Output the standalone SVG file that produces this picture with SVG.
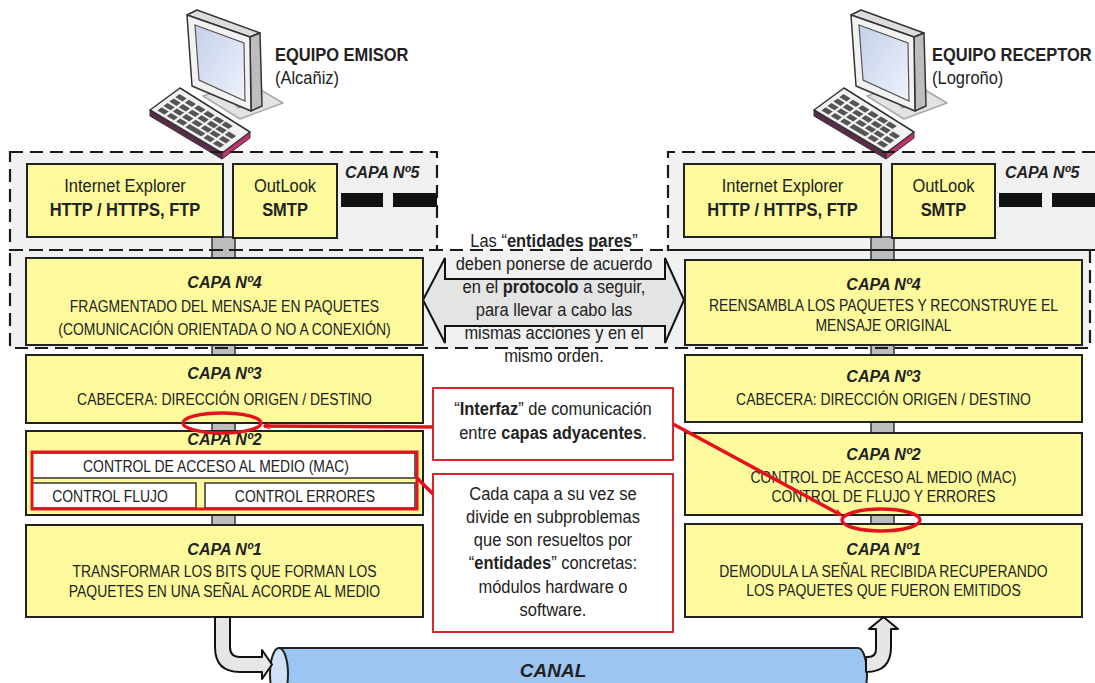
<svg xmlns="http://www.w3.org/2000/svg" width="1095" height="683" viewBox="0 0 1095 683">
  <style>
    text { font-family: "Liberation Sans", Arial, sans-serif; fill: #222; }
    .t16 { font-size: 18.3px; }
    .t14 { font-size: 17px; }
    .title { font-size: 16px; font-weight: bold; font-style: italic; }
    .b { font-weight: bold; }
    .mid { text-anchor: middle; }
    .layer { fill: #fcfa9c; stroke: #222; stroke-width: 2; }
    .plain { fill: #ffffff; stroke: #333; stroke-width: 1.5; }
    .zone { fill: #f1f1f1; stroke: none; }
    .dash { fill: none; stroke: #1a1a1a; stroke-width: 2.2; stroke-dasharray: 13 7; }
    .link { fill: #bdbdbd; stroke: #333; stroke-width: 1.5; }
    .note { fill: #ffffff; stroke: #d9262c; stroke-width: 2; }
    .red { fill: none; stroke: #e3121b; stroke-width: 3.5; }
    .pipe { fill: #e6e6e6; stroke: #111; stroke-width: 2; stroke-linejoin: round; }
  </style>
  <defs>
    <marker id="redHead" viewBox="0 0 12 12" refX="11" refY="6" markerWidth="7" markerHeight="7" orient="auto" markerUnits="userSpaceOnUse">
      <path d="M1,1 L11,6 L1,11" fill="none" stroke="#e3121b" stroke-width="2"/>
    </marker>
    <linearGradient id="screen" x1="0" y1="0" x2="1" y2="1">
      <stop offset="0" stop-color="#c4d0ea"/>
      <stop offset="1" stop-color="#eef2fb"/>
    </linearGradient>
    <clipPath id="clipL2"><rect x="26" y="431" width="397" height="84"/></clipPath>
    <!-- desktop computer icon -->
    <g id="pc">
      <path d="M203,96 L246,81 L283,103 L240,119 Z" fill="#e2e2e2" stroke="#aaa" stroke-width="1.5" stroke-linejoin="round"/>
      <path d="M226,90 L238,86 L250,104 L238,108 Z" fill="#cfcfcf" stroke="#888" stroke-width="1"/>
      <path d="M187,15 L197,10 L260,33 L250,37 Z" fill="#dcdcdc" stroke="#333" stroke-width="1.5" stroke-linejoin="round"/>
      <path d="M250,37 L260,33 L262,106 L251,111 Z" fill="#bdbdbd" stroke="#333" stroke-width="1.5" stroke-linejoin="round"/>
      <path d="M187,15 L250,37 L251,111 L192,86 Z" fill="#f2f2f2" stroke="#333" stroke-width="1.5" stroke-linejoin="round"/>
      <path d="M195,25 L244,43 L245,101 L199,80 Z" fill="url(#screen)" stroke="#555" stroke-width="1.2"/>
      <path d="M150,110 L222,153 L222,159 L150,116 Z" fill="#5b2b4b" stroke="#333" stroke-width="1"/>
      <path d="M222,153 L250,132 L250,138 L222,159 Z" fill="#c2306d" stroke="#333" stroke-width="1"/>
      <path d="M150,110 L180,88 L250,132 L222,153 Z" fill="#f2f2f2" stroke="#333" stroke-width="1.5" stroke-linejoin="round"/>
      <g transform="matrix(0.72,0.43,0.30,-0.22,150,110)" fill="#555">
        <rect x="6" y="10" width="10" height="14"/><rect x="19" y="10" width="10" height="14"/><rect x="32" y="10" width="10" height="14"/><rect x="45" y="10" width="22" height="14"/><rect x="70" y="10" width="10" height="14"/><rect x="83" y="10" width="10" height="14"/>
        <rect x="6" y="30" width="10" height="14"/><rect x="19" y="30" width="10" height="14"/><rect x="32" y="30" width="10" height="14"/><rect x="45" y="30" width="10" height="14"/><rect x="58" y="30" width="10" height="14"/><rect x="70" y="30" width="10" height="14"/><rect x="83" y="30" width="10" height="14"/>
        <rect x="6" y="50" width="10" height="14"/><rect x="19" y="50" width="10" height="14"/><rect x="32" y="50" width="10" height="14"/><rect x="45" y="50" width="10" height="14"/><rect x="58" y="50" width="10" height="14"/><rect x="70" y="50" width="10" height="14"/><rect x="83" y="50" width="10" height="14"/>
        <rect x="6" y="70" width="10" height="14"/><rect x="19" y="70" width="10" height="14"/><rect x="32" y="70" width="10" height="14"/><rect x="45" y="70" width="10" height="14"/><rect x="58" y="70" width="10" height="14"/><rect x="70" y="70" width="10" height="14"/>
      </g>
    </g>
  </defs>

  <rect width="1095" height="683" fill="#ffffff"/>

  <!-- shaded layer zones -->
  <g id="zones">
    <rect class="zone" x="10" y="152" width="427" height="98"/>
    <rect class="zone" x="668" y="152" width="427" height="98"/>
    <rect class="zone" x="10" y="250" width="1080" height="98"/>
  </g>

  <!-- computers (labels use a 0.9 horizontal squeeze) -->
  <g id="emisor">
    <use href="#pc"/>
    <g transform="scale(0.9,1)">
      <text class="t16 b" x="305.56" y="61">EQUIPO EMISOR</text>
      <text class="t16" x="305.56" y="84">(Alcañiz)</text>
    </g>
  </g>
  <g id="receptor">
    <use href="#pc" transform="translate(664,0)"/>
    <g transform="scale(0.9,1)">
      <text class="t16 b" x="1035.56" y="61">EQUIPO RECEPTOR</text>
      <text class="t16" x="1035.56" y="84">(Logroño)</text>
    </g>
  </g>

  <!-- links between adjacent layers -->
  <g id="links">
    <rect class="link" x="212" y="237" width="23" height="21"/>
    <rect class="link" x="212" y="345" width="23" height="10"/>
    <rect class="link" x="212" y="423" width="23" height="8"/>
    <rect class="link" x="212" y="515" width="23" height="10"/>
    <rect class="link" x="871" y="237" width="23" height="23"/>
    <rect class="link" x="871" y="345" width="23" height="10"/>
    <rect class="link" x="871" y="422" width="23" height="11"/>
    <rect class="link" x="871" y="515" width="23" height="9"/>
  </g>

  <!-- layer 5 -->
  <g id="capa5-emisor">
    <rect class="layer" x="27" y="164" width="196" height="73"/>
    <rect class="layer" x="233" y="164" width="104" height="74"/>
    <g transform="scale(0.9,1)">
      <text class="t16 mid" x="138.89" y="192">Internet Explorer</text>
      <text class="t16 b mid" x="138.89" y="216">HTTP / HTTPS, FTP</text>
      <text class="t16 mid" x="316.67" y="192">OutLook</text>
      <text class="t16 b mid" x="316.67" y="216">SMTP</text>
    </g>
    <text class="title" x="345" y="178">CAPA Nº5</text>
    <rect x="341" y="193" width="42" height="14" fill="#111"/>
    <rect x="393" y="193" width="44" height="14" fill="#111"/>
  </g>
  <g id="capa5-receptor">
    <rect class="layer" x="684" y="164" width="197" height="73"/>
    <rect class="layer" x="892" y="164" width="103" height="74"/>
    <g transform="scale(0.9,1)">
      <text class="t16 mid" x="869.44" y="192">Internet Explorer</text>
      <text class="t16 b mid" x="869.44" y="216">HTTP / HTTPS, FTP</text>
      <text class="t16 mid" x="1048.33" y="192">OutLook</text>
      <text class="t16 b mid" x="1048.33" y="216">SMTP</text>
    </g>
    <text class="title" x="1005" y="178">CAPA Nº5</text>
    <rect x="999" y="193" width="43" height="14" fill="#111"/>
    <rect x="1052" y="193" width="43" height="14" fill="#111"/>
  </g>

  <!-- dashed zone borders -->
  <g id="zone-borders">
    <rect class="dash" x="10" y="152" width="427" height="98"/>
    <path class="dash" d="M1095,152 L668,152 L668,250 L1095,250"/>
    <rect class="dash" x="10" y="250" width="1080" height="98"/>
  </g>

  <!-- peer protocol arrow -->
  <g id="protocolo">
    <path d="M423,300 L445,258 L445,279 L665,279 L665,258 L684,300 L665,343 L665,326 L445,326 L445,343 Z" fill="#e4e4e4" stroke="#111" stroke-width="2" stroke-linejoin="miter"/>
    <g transform="scale(0.9,1)">
      <text class="t16 mid" x="615.56" y="247">Las “<tspan class="b">entidades pares</tspan>”</text>
      <text class="t16 mid" x="615.56" y="270">deben ponerse de acuerdo</text>
      <text class="t16 mid" x="615.56" y="293">en el <tspan class="b">protocolo</tspan> a seguir,</text>
      <text class="t16 mid" x="615.56" y="316">para llevar a cabo las</text>
      <text class="t16 mid" x="615.56" y="339">mismas acciones y en el</text>
      <text class="t16 mid" x="615.56" y="362">mismo orden.</text>
    </g>
  </g>

  <!-- sender stack (body lines use a 0.82 horizontal squeeze) -->
  <g id="capa4-emisor">
    <rect class="layer" x="26" y="258" width="397" height="87"/>
    <text class="title mid" x="224.5" y="288">CAPA Nº4</text>
    <g transform="scale(0.82,1)">
      <text class="t14 mid" x="273.78" y="312">FRAGMENTADO DEL MENSAJE EN PAQUETES</text>
      <text class="t14 mid" x="273.78" y="335">(COMUNICACIÓN ORIENTADA O NO A CONEXIÓN)</text>
    </g>
  </g>
  <g id="capa3-emisor">
    <rect class="layer" x="26" y="355" width="397" height="68"/>
    <text class="title mid" x="224.5" y="379">CAPA Nº3</text>
    <g transform="scale(0.82,1)">
      <text class="t14 mid" x="273.78" y="405">CABECERA: DIRECCIÓN ORIGEN / DESTINO</text>
    </g>
  </g>
  <g id="capa2-emisor">
    <rect class="layer" x="26" y="431" width="397" height="84"/>
    <text class="title mid" x="224.5" y="445" clip-path="url(#clipL2)">CAPA Nº2</text>
    <rect class="plain" x="32" y="453" width="383" height="25"/>
    <rect class="plain" x="32" y="483" width="164" height="25"/>
    <rect class="plain" x="205" y="483" width="210" height="25"/>
    <g transform="scale(0.82,1)">
      <text class="t14 mid" x="263.41" y="472">CONTROL DE ACCESO AL MEDIO (MAC)</text>
      <text class="t14 mid" x="134.15" y="502">CONTROL FLUJO</text>
      <text class="t14 mid" x="371.95" y="502">CONTROL ERRORES</text>
    </g>
    <rect x="32" y="452" width="385" height="57" fill="none" stroke="#e3121b" stroke-width="3"/>
  </g>
  <g id="capa1-emisor">
    <rect class="layer" x="26" y="525" width="397" height="92"/>
    <text class="title mid" x="224.5" y="555">CAPA Nº1</text>
    <g transform="scale(0.82,1)">
      <text class="t14 mid" x="273.78" y="577">TRANSFORMAR LOS BITS QUE FORMAN LOS</text>
      <text class="t14 mid" x="273.78" y="597">PAQUETES EN UNA SEÑAL ACORDE AL MEDIO</text>
    </g>
  </g>

  <!-- receiver stack -->
  <g id="capa4-receptor">
    <rect class="layer" x="685" y="260" width="397" height="85"/>
    <text class="title mid" x="883.5" y="290">CAPA Nº4</text>
    <g transform="scale(0.82,1)">
      <text class="t14 mid" x="1077.44" y="311">REENSAMBLA LOS PAQUETES Y RECONSTRUYE EL</text>
      <text class="t14 mid" x="1077.44" y="331">MENSAJE ORIGINAL</text>
    </g>
  </g>
  <g id="capa3-receptor">
    <rect class="layer" x="685" y="355" width="397" height="67"/>
    <text class="title mid" x="883.5" y="382">CAPA Nº3</text>
    <g transform="scale(0.82,1)">
      <text class="t14 mid" x="1077.44" y="405">CABECERA: DIRECCIÓN ORIGEN / DESTINO</text>
    </g>
  </g>
  <g id="capa2-receptor">
    <rect class="layer" x="685" y="433" width="397" height="82"/>
    <text class="title mid" x="883.5" y="460">CAPA Nº2</text>
    <g transform="scale(0.82,1)">
      <text class="t14 mid" x="1077.44" y="483">CONTROL DE ACCESO AL MEDIO (MAC)</text>
      <text class="t14 mid" x="1077.44" y="502">CONTROL DE FLUJO Y ERRORES</text>
    </g>
  </g>
  <g id="capa1-receptor">
    <rect class="layer" x="685" y="524" width="397" height="93"/>
    <text class="title mid" x="883.5" y="555">CAPA Nº1</text>
    <g transform="scale(0.82,1)">
      <text class="t14 mid" x="1077.44" y="577">DEMODULA LA SEÑAL RECIBIDA RECUPERANDO</text>
      <text class="t14 mid" x="1077.44" y="596">LOS PAQUETES QUE FUERON EMITIDOS</text>
    </g>
  </g>

  <!-- notes -->
  <g id="nota-interfaz">
    <rect class="note" x="433" y="388" width="240" height="72"/>
    <g transform="scale(0.9,1)">
      <text class="t16 mid" x="614.44" y="415">“<tspan class="b">Interfaz</tspan>” de comunicación</text>
      <text class="t16 mid" x="614.44" y="439">entre <tspan class="b">capas adyacentes</tspan>.</text>
    </g>
  </g>
  <g id="nota-entidades">
    <rect class="note" x="433" y="474" width="240" height="158"/>
    <g transform="scale(0.9,1)">
      <text class="t16 mid" x="614.44" y="500">Cada capa a su vez se</text>
      <text class="t16 mid" x="614.44" y="523">divide en subproblemas</text>
      <text class="t16 mid" x="614.44" y="546">que son resueltos por</text>
      <text class="t16 mid" x="614.44" y="569">“<tspan class="b">entidades</tspan>” concretas:</text>
      <text class="t16 mid" x="614.44" y="593">módulos hardware o</text>
      <text class="t16 mid" x="614.44" y="616">software.</text>
    </g>
  </g>

  <!-- channel -->
  <g id="canal">
    <path d="M279,648 L858,648 A9,26 0 0 1 858,700 L279,700 Z" fill="#9cc5f2" stroke="#222" stroke-width="2"/>
    <ellipse cx="279" cy="674" rx="9" ry="26" fill="#cfe2f8" stroke="#222" stroke-width="2"/>
    <text x="553" y="677" class="mid" font-size="19" font-weight="bold" font-style="italic">CANAL</text>
  </g>

  <!-- connectors -->
  <g id="connectors">
    <path class="pipe" d="M215,617 L215,647 Q215,672 240,672 L262,672 L262,679 L272,664.5 L262,650 L262,657 L240,657 Q230,657 230,647 L230,617 Z"/>
    <path class="pipe" d="M866,657 L868,657 Q876,657 876,649 L876,629 L869,629 L883.5,617 L898,629 L891,629 L891,647 Q891,672 866,672 Z"/>
    <ellipse class="red" cx="222" cy="423" rx="39" ry="10"/>
    <ellipse class="red" cx="881" cy="520" rx="39" ry="11"/>
    <line class="red" x1="433" y1="427" x2="264" y2="426" marker-end="url(#redHead)"/>
    <line class="red" x1="673" y1="424" x2="841" y2="515" marker-end="url(#redHead)"/>
    <line class="red" x1="417" y1="478" x2="433" y2="494"/>
  </g>
</svg>
